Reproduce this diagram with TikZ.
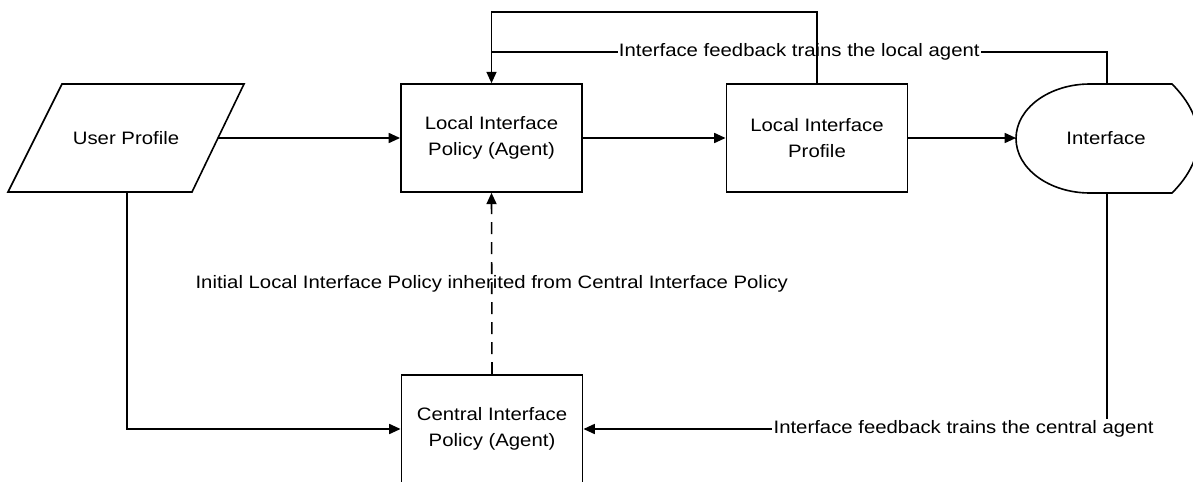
\documentclass[tikz,border=0pt]{standalone}
\usepackage{fontspec}
\setmainfont{Liberation Sans}[FakeStretch=1.13]
\usetikzlibrary{arrows.meta}
\begin{document}
\begin{tikzpicture}[x=0.75pt,y=-0.75pt,
  line width=1.2pt,
  font=\fontsize{13.5}{20}\selectfont,
  box/.style={draw, line width=1.2pt, minimum width=136pt, minimum height=81pt, inner sep=0pt, align=center},
  shapeline/.style={draw, line width=1.2pt, line join=miter},
  conn/.style={draw, line width=1.2pt},
  arr/.style={conn, -{Triangle[length=8.5pt,width=7.5pt]}},
  lbl/.style={fill=white, inner sep=1pt},
  plain/.style={inner sep=1pt}]
\useasboundingbox (0,0) rectangle (1193,482);

% User Profile parallelogram
\path[shapeline] (62,84) -- (244,84) -- (192,192) -- (8,192) -- cycle;
\node[plain] (user) at (126,138) {User Profile};
\coordinate (userE) at (218,138);
\coordinate (userS) at (127,192);

% boxes
\node[box] (pol) at (491.5,138) {Local Interface\\Policy (Agent)};
\node[box] (prof) at (817,138) {Local Interface\\Profile};
\node[box] (cen) at (492,429) {Central Interface\\Policy (Agent)};

% Interface display shape
\path[shapeline] (1016,138.5) .. controls (1016,108.4) and (1049.1,84) .. (1090,84)
  -- (1172,84) .. controls (1207,119) and (1207,158) .. (1172,193)
  -- (1090,193) .. controls (1049.1,193) and (1016,168.6) .. (1016,138.5) -- cycle;
\node[plain] (iface) at (1106,138) {Interface};
\coordinate (ifaceW) at (1016,138);
\coordinate (ifaceN) at (1107,84);
\coordinate (ifaceS) at (1107,193);

% corner points
\coordinate (topL) at (491.5,12);
\coordinate (topR) at (817,12);
\coordinate (midR) at (1107,52);
\coordinate (midL) at (491.5,52);
\coordinate (botR) at (1107,429);

% connectors
\draw[arr] (userE) -- (pol.west);
\draw[arr] (pol.east) -- (prof.west);
\draw[arr] (prof.east) -- (ifaceW);

\draw[conn] (ifaceN) -- (midR) -- node[lbl, midway] {Interface feedback trains the local agent} (midL);
\draw[arr] (prof.north) -- (topR) -- (topL) -- (pol.north);

\draw[arr, dash pattern=on 9pt off 6pt] (cen.north) -- node[plain, midway] {Initial Local Interface Policy inherited from Central Interface Policy} (pol.south);

\draw[arr] (ifaceS) -- (botR) -- node[lbl, pos=0.274] {Interface feedback trains the central agent} (cen.east);

\draw[arr] (userS) |- (cen.west);
\end{tikzpicture}
\end{document}
